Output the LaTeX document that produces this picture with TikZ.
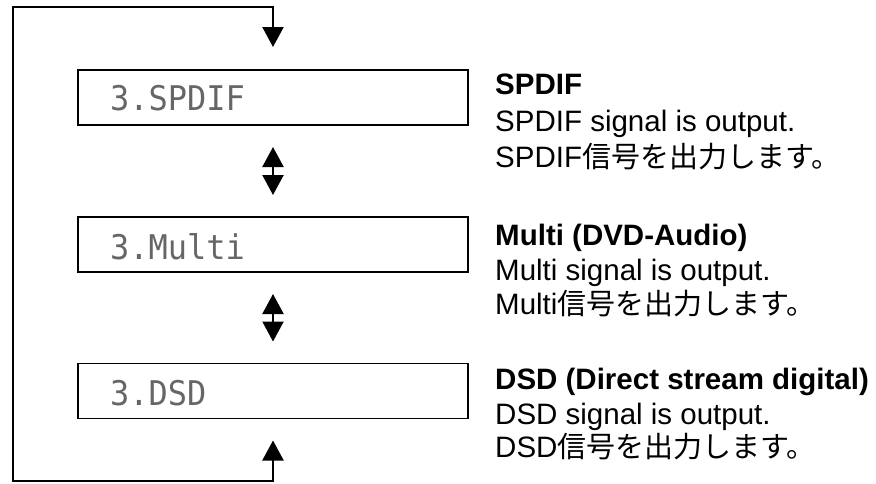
\documentclass[tikz,border=0pt]{standalone}
\usepackage{fontspec}
\setmainfont{Liberation Sans}
\newfontfamily\cjk{Noto Sans CJK JP}
\newfontfamily\lcd[FakeStretch=0.94]{DejaVu Sans Mono}
\usetikzlibrary{arrows.meta}
\tikzset{
  lcdbox/.style={draw, line width=1.6pt, minimum width=390pt, minimum height=55pt, inner sep=0pt, outer sep=0pt},
  lcdtext/.style={anchor=base west, inner sep=0pt, text=black!60, font=\lcd\fontsize{34}{40}\selectfont},
  conn/.style={line width=2.2pt, {Triangle[width=21pt,length=20pt]}-{Triangle[width=21pt,length=20pt]}},
  title/.style={anchor=base west, inner sep=0pt, font=\bfseries\fontsize{29.5}{36}\selectfont},
  desc/.style={anchor=base west, inner sep=0pt, font=\fontsize{29.5}{36}\selectfont},
  jp/.style={anchor=base west, inner sep=0pt, font=\fontsize{29.5}{36}\selectfont}
}
\newcommand{\jtext}[1]{{\cjk\fontsize{29}{36}\selectfont #1}}
\begin{document}
\begin{tikzpicture}[x=1pt,y=-1pt]
\useasboundingbox (0,0) rectangle (876,483);
% boxes
\node[lcdbox] (b1) at (273,97.5) {};
\node[lcdbox] (b2) at (273,244.5) {};
\node[lcdbox] (b3) at (273,391) {};
\node[lcdtext] (l1) at (110,110) {3.SPDIF};
\node[lcdtext] (l2) at (110,259) {3.Multi};
\node[lcdtext] (l3) at (110,405) {3.DSD};
% connectors
\coordinate (tl) at (13,7);
\coordinate (bl) at (13,481);
\draw[conn, shorten <=22pt, shorten >=22pt] (b1.south) -- (b2.north);
\draw[conn, shorten <=22pt, shorten >=22pt] (b2.south) -- (b3.north);
\draw[conn, shorten <=23pt, shorten >=22pt] (b1.north) |- (tl) -- (bl) -| (b3.south);
% descriptions
\node[title] (t1) at (495,94) {SPDIF};
\node[desc] (d1) at (495,131) {SPDIF signal is output.};
\node[jp] (j1) at (495,167) {SPDIF\jtext{信号を出力します。}};
\node[title] (t2) at (495,245) {Multi (DVD-Audio)};
\node[desc] (d2) at (495,280) {Multi signal is output.};
\node[jp] (j2) at (495,314) {Multi\jtext{信号を出力します。}};
\node[title] (t3) at (495,389) {DSD (Direct stream digital)};
\node[desc] (d3) at (495,424) {DSD signal is output.};
\node[jp] (j3) at (495,457) {DSD\jtext{信号を出力します。}};
\end{tikzpicture}
\end{document}
